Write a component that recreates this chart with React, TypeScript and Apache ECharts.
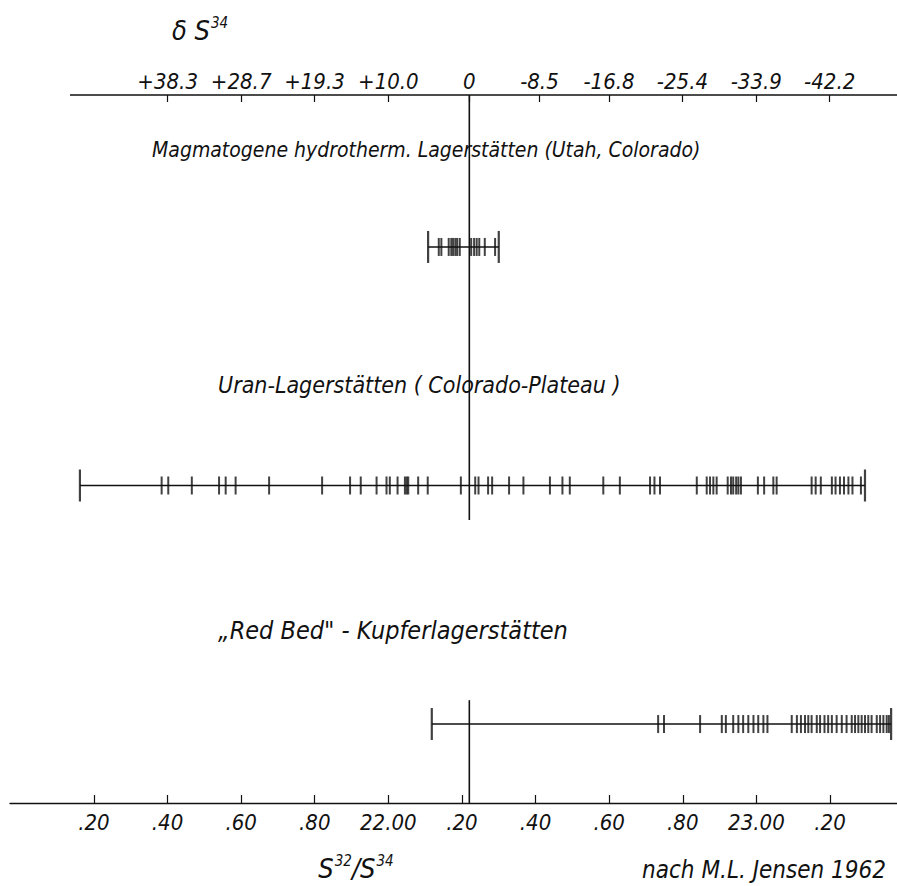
import { useEffect, useRef } from "react";
import * as echarts from "echarts";

// S32/S34 of the meteoritic standard (delta = 0)
const RATIO_STANDARD = 22.22;

// Top axis: delta S34 (per mil) tick labels
const deltaLabels = ["+38.3", "+28.7", "+19.3", "+10.0", "0", "-8.5", "-16.8", "-25.4", "-33.9", "-42.2"];
const deltaValues = [38.3, 28.7, 19.3, 10.0, 0, -8.5, -16.8, -25.4, -33.9, -42.2];

// Bottom axis: S32/S34 ticks
const ratioTickValues = [21.2, 21.4, 21.6, 21.8, 22.0, 22.2, 22.4, 22.6, 22.8, 23.0, 23.2];
const ratioTickLabels = [".20", ".40", ".60", ".80", "22.00", ".20", ".40", ".60", ".80", "23.00", ".20"];

// Deposit groups (rows)
const groupNames = [
  "Magmatogene hydrotherm. Lagerstätten (Utah, Colorado)",
  "Uran-Lagerstätten ( Colorado-Plateau )",
  "„Red Bed\" - Kupferlagerstätten",
];

// Ranges (S32/S34) and single measurements per group
const magmaRange = [22.108, 22.3];
const magmaValues = [22.137, 22.144, 22.164, 22.171, 22.176, 22.182, 22.187, 22.194, 22.225, 22.233, 22.24, 22.247, 22.262, 22.29];

const uranRange = [21.162, 23.295];
const uranValues = [
  21.384, 21.402, 21.466, 21.54, 21.558, 21.585, 21.676, 21.82, 21.896, 21.925, 21.968, 21.995, 22.004, 22.025,
  22.045, 22.05, 22.054, 22.081, 22.107, 22.197, 22.236, 22.245, 22.271, 22.282, 22.328, 22.367, 22.439, 22.473,
  22.493, 22.584, 22.629, 22.711, 22.723, 22.738, 22.838, 22.865, 22.874, 22.883, 22.892, 22.922, 22.931, 22.937,
  22.945, 22.951, 22.958, 23.004, 23.021, 23.046, 23.055, 23.15, 23.161, 23.175, 23.205, 23.215, 23.227, 23.238,
  23.25, 23.261, 23.284,
];

const redBedRange = [22.118, 23.366];
const redBedValues = [
  22.733, 22.749, 22.847, 22.906, 22.917, 22.937, 22.951, 22.964, 22.978, 22.992, 23.005, 23.019, 23.03, 23.096,
  23.11, 23.121, 23.132, 23.141, 23.15, 23.164, 23.173, 23.185, 23.195, 23.205, 23.218, 23.232, 23.245, 23.259,
  23.268, 23.277, 23.286, 23.295, 23.304, 23.313, 23.327, 23.336, 23.345, 23.354, 23.36,
];

const FONT = '"DejaVu Sans Condensed", "Liberation Sans Narrow", "DejaVu Sans", sans-serif';
const INK = "#111111";

function titleText(text: string, x: number, y: number, size: number) {
  return {
    type: "text",
    x,
    y,
    style: {
      text,
      fill: INK,
      fontFamily: FONT,
      fontStyle: "italic",
      fontSize: size,
      align: "left",
      verticalAlign: "middle",
    },
  };
}

function buildOption() {
  const ranges = [magmaRange, uranRange, redBedRange];
  const values = [magmaValues, uranValues, redBedValues];
  const deltaRatios = deltaValues.map((d) => RATIO_STANDARD / (1 + d / 1000));

  const rangeSeries = ranges.map((r, i) => ({
    type: "line",
    xAxisIndex: 0,
    yAxisIndex: 0,
    data: [
      [r[0], i],
      [r[1], i],
    ],
    symbol: "none",
    lineStyle: { color: INK, width: 1.6 },
    silent: true,
  }));

  const capData: number[][] = [];
  ranges.forEach((r, i) => {
    capData.push([r[0], i], [r[1], i]);
  });
  const tickData: number[][] = [];
  values.forEach((vs, i) => vs.forEach((v) => tickData.push([v, i])));

  const supRich = { sup: { fontSize: 15, fontFamily: FONT, fontStyle: "italic", fill: INK, padding: [0, 0, 15, 1] } };

  return {
    animation: false,
    grid: { left: 10, right: 0, top: 95, bottom: 83, containLabel: false },
    xAxis: [
      {
        type: "value",
        position: "bottom",
        min: 20.972,
        max: 23.382,
        splitLine: { show: false },
        axisLine: { show: true, onZero: false, lineStyle: { color: INK, width: 1.4 } },
        axisTick: { show: true, inside: true, length: 8, customValues: ratioTickValues, lineStyle: { color: INK, width: 1.2 } },
        axisLabel: {
          customValues: ratioTickValues,
          margin: 8,
          color: INK,
          fontFamily: FONT,
          fontStyle: "italic",
          fontSize: 22,
          formatter: (v: number) => {
            const idx = ratioTickValues.findIndex((t) => Math.abs(t - v) < 1e-6);
            return idx >= 0 ? ratioTickLabels[idx] : "";
          },
        },
      },
      {
        type: "value",
        position: "top",
        min: 20.972,
        max: 23.382,
        splitLine: { show: false },
        axisLine: { show: false, onZero: false },
        axisTick: { show: true, inside: true, length: 7, customValues: deltaRatios, lineStyle: { color: INK, width: 1.2 } },
        axisLabel: {
          customValues: deltaRatios,
          margin: 3,
          color: INK,
          fontFamily: FONT,
          fontStyle: "italic",
          fontSize: 22,
          formatter: (v: number) => {
            const idx = deltaRatios.findIndex((t) => Math.abs(t - v) < 1e-6);
            return idx >= 0 ? deltaLabels[idx] : "";
          },
        },
      },
    ],
    yAxis: {
      type: "value",
      min: -0.637,
      max: 2.331,
      inverse: true,
      show: false,
    },
    series: [
      ...rangeSeries,
      {
        type: "line",
        data: [
          [RATIO_STANDARD, -0.637],
          [RATIO_STANDARD, 1.145],
        ],
        symbol: "none",
        lineStyle: { color: INK, width: 1.6 },
        silent: true,
      },
      {
        type: "line",
        data: [
          [RATIO_STANDARD, 1.9],
          [RATIO_STANDARD, 2.331],
        ],
        symbol: "none",
        lineStyle: { color: INK, width: 1.6 },
        silent: true,
      },
      {
        type: "scatter",
        data: capData,
        symbol: "rect",
        symbolSize: [2.2, 32],
        itemStyle: { color: INK },
        silent: true,
      },
      {
        type: "scatter",
        data: tickData,
        symbol: "rect",
        symbolSize: [2, 18],
        itemStyle: { color: INK },
        silent: true,
      },
    ],
    graphic: [
      {
        type: "line",
        shape: { x1: 70, y1: 95, x2: 897, y2: 95 },
        style: { stroke: INK, lineWidth: 1.4 },
        silent: true,
      },
      {
        type: "text",
        x: 172,
        y: 30,
        style: {
          text: "δ S{sup|34}",
          fill: INK,
          fontFamily: FONT,
          fontStyle: "italic",
          fontSize: 27,
          verticalAlign: "middle",
          rich: supRich,
        },
      },
      titleText(groupNames[0], 152, 150, 21),
      titleText(groupNames[1], 218, 385, 23),
      titleText(groupNames[2], 218, 630, 25),
      {
        type: "text",
        x: 356,
        y: 868,
        style: {
          text: "S{sup|32}/S{sup|34}",
          fill: INK,
          fontFamily: FONT,
          fontStyle: "italic",
          fontSize: 27,
          align: "center",
          verticalAlign: "middle",
          rich: supRich,
        },
      },
      {
        type: "text",
        x: 886,
        y: 870,
        style: {
          text: "nach M.L. Jensen 1962",
          fill: INK,
          fontFamily: FONT,
          fontStyle: "italic",
          fontSize: 24,
          align: "right",
          verticalAlign: "middle",
        },
      },
    ],
  };
}

export default function App() {
  const ref = useRef<HTMLDivElement>(null);
  useEffect(() => {
    document.body.style.margin = "0";
    const chart = echarts.init(ref.current as HTMLDivElement, null, { renderer: "svg" });
    chart.setOption(buildOption() as any);
    return () => chart.dispose();
  }, []);
  return <div ref={ref} style={{ width: 897, height: 886 }} />;
}
